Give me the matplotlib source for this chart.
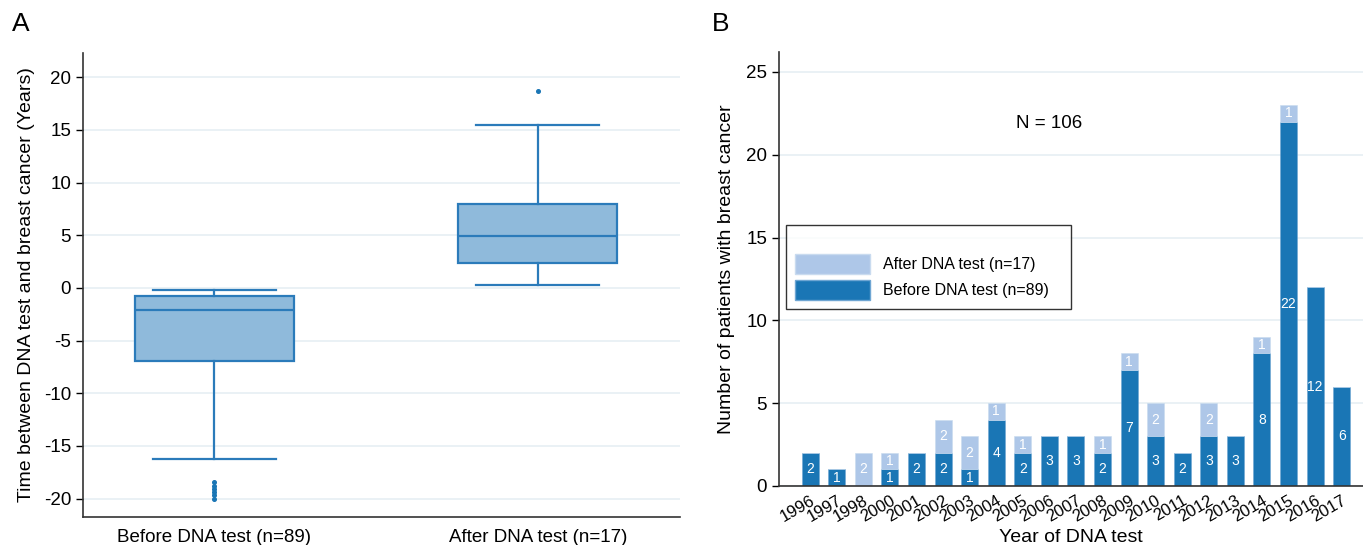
import numpy as np
import matplotlib.pyplot as plt
from matplotlib.patches import Patch

plt.rcParams['font.family'] = ['Liberation Sans', 'DejaVu Sans']

# Panel A: box plot summaries (years between DNA test and breast cancer)
box_labels = ['Before DNA test (n=89)', 'After DNA test (n=17)']
box_whislo = [-16.2, 0.3]
box_q1 = [-6.9, 2.4]
box_med = [-2.1, 4.9]
box_q3 = [-0.8, 8.0]
box_whishi = [-0.2, 15.5]
box_fliers = [[-18.4, -18.8, -19.1, -19.4, -19.7, -20.0], [18.7]]

# Panel B: patients per year of DNA test
years = ['1996', '1997', '1998', '2000', '2001', '2002', '2003', '2004', '2005', '2006', '2007',
         '2008', '2009', '2010', '2011', '2012', '2013', '2014', '2015', '2016', '2017']
before = [2, 1, 0, 1, 2, 2, 1, 4, 2, 3, 3, 2, 7, 3, 2, 3, 3, 8, 22, 12, 6]
after = [0, 0, 2, 1, 0, 2, 2, 1, 1, 0, 0, 1, 1, 2, 0, 2, 0, 1, 1, 0, 0]

dark = '#1a76b5'
light = '#aec7e8'
grid_c = '#e6eff4'
edge = '#2b7bba'

fig = plt.figure(figsize=(13.63, 5.45), dpi=100)
axA = fig.add_axes([83 / 1363, 1 - 517 / 545, 597 / 1363, 464 / 545])
axB = fig.add_axes([779 / 1363, 1 - 486 / 545, 584 / 1363, 434 / 545])

# ---- Panel A
stats = []
for i in range(2):
    stats.append(dict(whislo=box_whislo[i], q1=box_q1[i], med=box_med[i], q3=box_q3[i],
                      whishi=box_whishi[i], fliers=box_fliers[i]))
axA.bxp(stats, positions=[1, 2], widths=0.49, patch_artist=True, showfliers=True,
        boxprops=dict(facecolor='#8fbadb', edgecolor=edge, linewidth=1.6),
        medianprops=dict(color=edge, linewidth=1.6),
        whiskerprops=dict(color=edge, linewidth=1.6),
        capprops=dict(color=edge, linewidth=1.6),
        capwidths=0.38,
        flierprops=dict(marker='o', markersize=2.6, markerfacecolor=dark, markeredgecolor=dark))
axA.set_xlim(0.594, 2.44)
axA.set_ylim(-21.75, 22.3)
axA.set_yticks([-20, -15, -10, -5, 0, 5, 10, 15, 20])
axA.set_yticklabels(['-20', '-15', '-10', '-5', '0', '5', '10', '15', '20'])
axA.set_xticks([1, 2])
axA.set_xticklabels(box_labels)
axA.tick_params(axis='x', length=0, pad=9, labelsize=13.5)
axA.tick_params(axis='y', length=5, width=1, labelsize=13.5, colors='black')
axA.yaxis.grid(True, color=grid_c, linewidth=1.2)
axA.set_axisbelow(True)
axA.spines['top'].set_visible(False)
axA.spines['right'].set_visible(False)
for s in ['left', 'bottom']:
    axA.spines[s].set_color('#333333')
    axA.spines[s].set_linewidth(1.2)
axA.set_ylabel('Time between DNA test and breast cancer (Years)', fontsize=14, labelpad=6)

# ---- Panel B
x = np.arange(len(years))
axB.bar(x, before, width=0.64, color=dark, edgecolor='#6fa6d3', linewidth=0.4, zorder=2)
axB.bar(x, after, width=0.64, bottom=before, color=light, edgecolor='#c9dbef', linewidth=0.4, zorder=2)
for i in range(len(years)):
    if before[i] > 0:
        axB.text(x[i], before[i] / 2, str(before[i]), color='white', ha='center', va='center',
                 fontsize=10, zorder=3)
    if after[i] > 0:
        axB.text(x[i], before[i] + after[i] / 2, str(after[i]), color='white', ha='center',
                 va='center', fontsize=10, zorder=3)
axB.set_xlim(-1.17, 20.8)
axB.set_ylim(0, 26.2)
axB.set_yticks([0, 5, 10, 15, 20, 25])
axB.set_xticks(x)
axB.set_xticklabels(years, rotation=30, ha='right', rotation_mode='anchor')
axB.tick_params(axis='x', length=0, pad=5, labelsize=12)
axB.tick_params(axis='y', length=5, width=1, labelsize=13.5)
axB.yaxis.grid(True, color=grid_c, linewidth=1.2)
axB.set_axisbelow(True)
axB.spines['top'].set_visible(False)
axB.spines['right'].set_visible(False)
for s in ['left', 'bottom']:
    axB.spines[s].set_color('#333333')
    axB.spines[s].set_linewidth(1.2)
axB.set_ylabel('Number of patients with breast cancer', fontsize=14, labelpad=8)
axB.set_xlabel('Year of DNA test', fontsize=14, labelpad=3)
axB.text(9, 21.9, 'N = 106', fontsize=13.5, ha='center', va='center')

handles = [Patch(facecolor=light, edgecolor='#c9dbef'), Patch(facecolor=dark, edgecolor='#6fa6d3')]
leg = axB.legend(handles, ['After DNA test (n=17)', 'Before DNA test (n=89)'],
                 loc='upper left', bbox_to_anchor=(0.012, 0.601), fontsize=11.5,
                 title=' ', title_fontsize=11, fancybox=False, frameon=True,
                 handlelength=4.7, handleheight=1.6, handletextpad=0.8,
                 borderpad=0.55, labelspacing=0.35, borderaxespad=0)
leg.get_frame().set_edgecolor('black')
leg.get_frame().set_linewidth(1.0)
leg._legend_box.align = 'left'
# widen the frame a little to match the reference box
leg.set_bbox_to_anchor((0.012, 0.601))
for t in leg.get_texts():
    t.set_text(t.get_text() + '   ')

fig.text(12 / 1363, 1 - 24 / 545, 'A', fontsize=19, va='center', ha='left')
fig.text(712 / 1363, 1 - 24 / 545, 'B', fontsize=19, va='center', ha='left')

fig.savefig('out.png', dpi=100)
